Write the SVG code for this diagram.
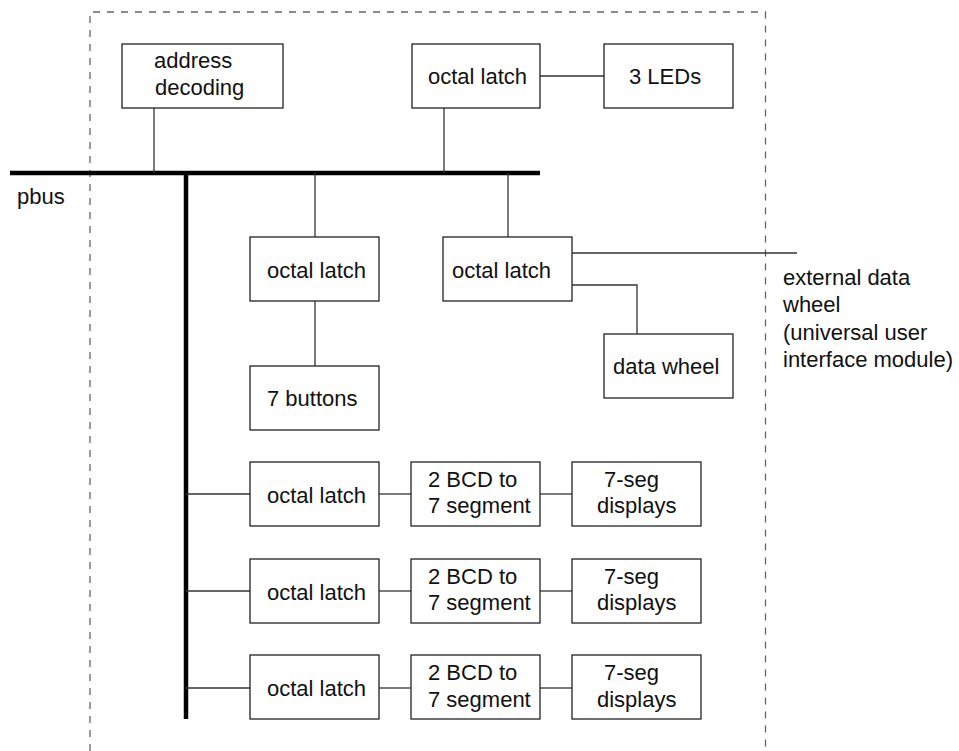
<svg xmlns="http://www.w3.org/2000/svg" width="959" height="751" viewBox="0 0 959 751">
<style>
.box{fill:#fff;stroke:#222;stroke-width:1.3}
.t{font-family:"Liberation Sans",Arial,sans-serif;font-size:22px;fill:#111}
.c{stroke:#333;stroke-width:1.3;fill:none}
.bus{stroke:#000;stroke-width:4.5;fill:none}
.dash{stroke:#666;stroke-width:1.3;stroke-dasharray:7 7;fill:none}
</style>
<rect width="959" height="751" fill="#fff"/>
<g id="boundary">
<path class="dash" d="M90 751 V12 H765.5 V751"/>
</g>
<g id="connectors">
<path class="bus" d="M10 173 H540"/>
<path class="bus" d="M186 173 V719"/>
<path class="c" d="M154 108 V173"/>
<path class="c" d="M444 108 V173"/>
<path class="c" d="M540 76 H604"/>
<path class="c" d="M315 173 V237"/>
<path class="c" d="M508 173 V237"/>
<path class="c" d="M315 301 V366"/>
<path class="c" d="M572 253 H797"/>
<path class="c" d="M572 285 H637 V334"/>
<path class="c" d="M186 494 H250"/>
<path class="c" d="M379 494 H411"/>
<path class="c" d="M540 494 H572"/>
<path class="c" d="M186 591 H250"/>
<path class="c" d="M379 591 H411"/>
<path class="c" d="M540 591 H572"/>
<path class="c" d="M186 688 H250"/>
<path class="c" d="M379 688 H411"/>
<path class="c" d="M540 688 H572"/>
</g>
<g id="pbus"><text class="t" x="17" y="204">pbus</text></g>
<g id="ext"><text class="t" x="783" y="285">external data</text><text class="t" x="783" y="312">wheel</text><text class="t" x="783" y="340">(universal user</text><text class="t" x="783" y="367">interface module)</text></g>
<g id="addr"><rect class="box" x="122" y="44" width="161" height="64"/><text class="t" x="154" y="67.5">address</text><text class="t" x="155" y="94.5">decoding</text></g>
<g id="latch_led"><rect class="box" x="412" y="44" width="128" height="64"/><text class="t" x="428" y="83.5">octal latch</text></g>
<g id="leds"><rect class="box" x="604" y="44" width="129" height="64"/><text class="t" x="629" y="84">3 LEDs</text></g>
<g id="latch_btn"><rect class="box" x="250" y="237" width="129" height="64"/><text class="t" x="267" y="277.5">octal latch</text></g>
<g id="latch_wheel"><rect class="box" x="443" y="237" width="129" height="64"/><text class="t" x="452" y="277.5">octal latch</text></g>
<g id="buttons"><rect class="box" x="250" y="366" width="129" height="64"/><text class="t" x="267" y="406">7 buttons</text></g>
<g id="wheel"><rect class="box" x="604" y="334" width="129" height="64"/><text class="t" x="613" y="374">data wheel</text></g>
<g id="latch1"><rect class="box" x="250" y="462" width="129" height="64"/><text class="t" x="267" y="503">octal latch</text></g>
<g id="bcd1"><rect class="box" x="411" y="462" width="129" height="64"/><text class="t" x="428" y="486.5">2 BCD to</text><text class="t" x="428" y="513">7 segment</text></g>
<g id="seg1"><rect class="box" x="572" y="462" width="129" height="64"/><text class="t" x="604" y="486.5">7-seg</text><text class="t" x="597" y="513">displays</text></g>
<g id="latch2"><rect class="box" x="250" y="559" width="129" height="64"/><text class="t" x="267" y="599.5">octal latch</text></g>
<g id="bcd2"><rect class="box" x="411" y="559" width="129" height="64"/><text class="t" x="428" y="583.5">2 BCD to</text><text class="t" x="428" y="610">7 segment</text></g>
<g id="seg2"><rect class="box" x="572" y="559" width="129" height="64"/><text class="t" x="604" y="583.5">7-seg</text><text class="t" x="597" y="610">displays</text></g>
<g id="latch3"><rect class="box" x="250" y="655" width="129" height="64"/><text class="t" x="267" y="696">octal latch</text></g>
<g id="bcd3"><rect class="box" x="411" y="655" width="129" height="64"/><text class="t" x="428" y="680">2 BCD to</text><text class="t" x="428" y="706.5">7 segment</text></g>
<g id="seg3"><rect class="box" x="572" y="655" width="129" height="64"/><text class="t" x="604" y="680">7-seg</text><text class="t" x="597" y="706.5">displays</text></g>
</svg>
